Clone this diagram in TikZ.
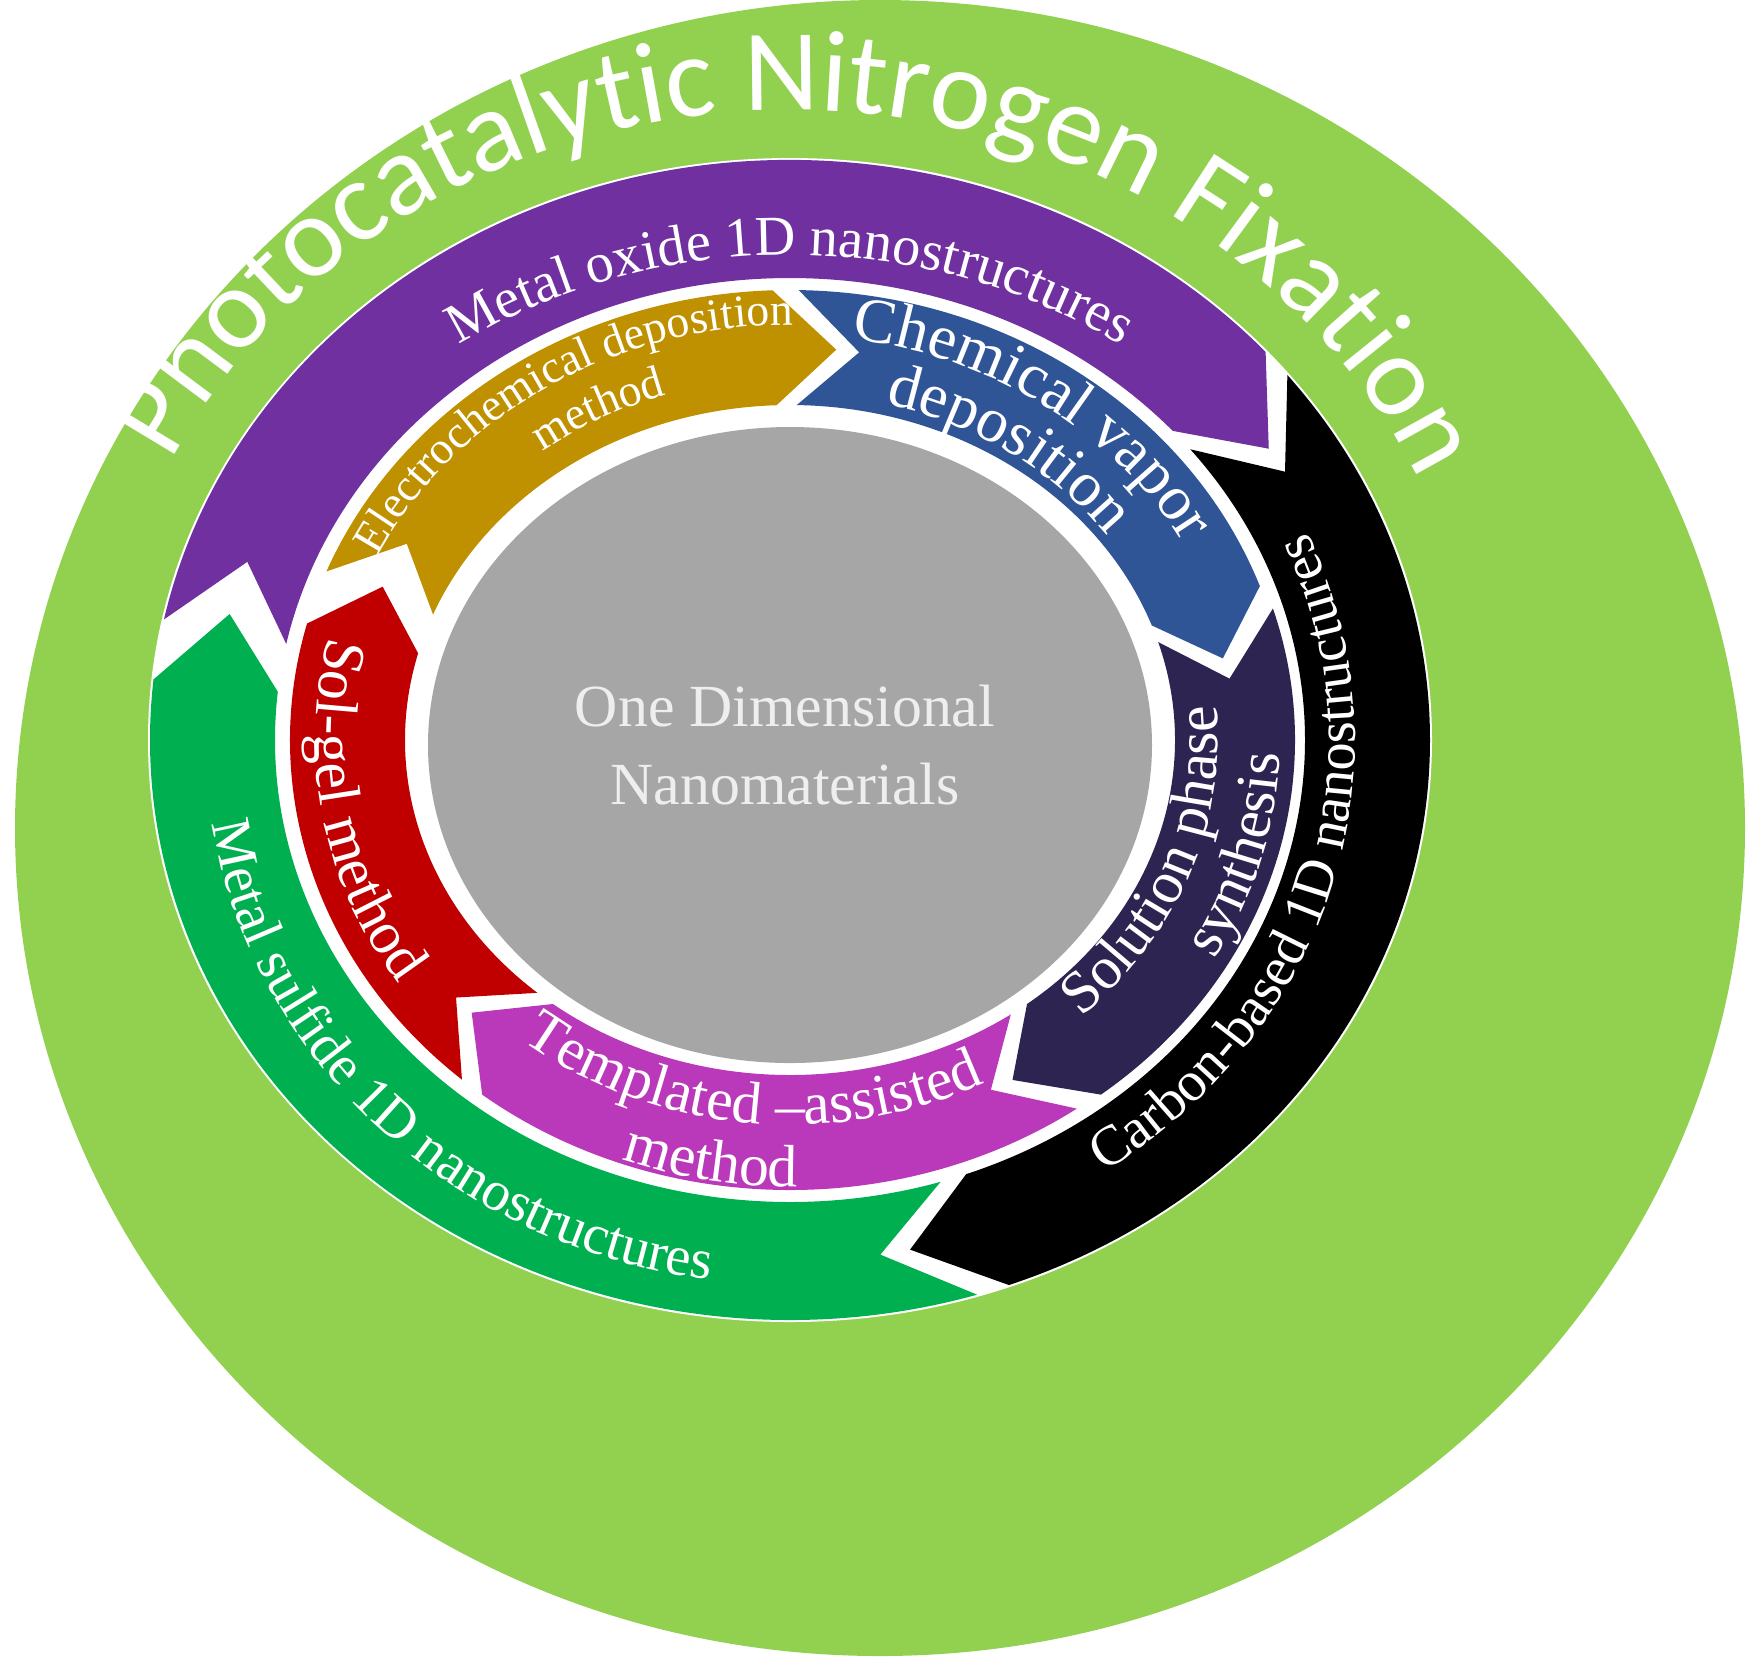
\documentclass[tikz,border=0pt]{standalone}
\usepackage{fontspec}
\setmainfont{Liberation Serif}
\newfontfamily\titlef{Carlito}
\usetikzlibrary{decorations.text,calc}
\definecolor{bggreen}{HTML}{92D050}
\definecolor{cpurple}{HTML}{7030A0}
\definecolor{cgreen}{HTML}{00B050}
\definecolor{cgold}{HTML}{BF9000}
\definecolor{cblue}{HTML}{2F5597}
\definecolor{cnavy}{HTML}{2E2452}
\definecolor{cmag}{HTML}{BA38BA}
\definecolor{cred}{HTML}{C00000}
\definecolor{cgray}{HTML}{A6A6A6}
\definecolor{ltext}{HTML}{EEEEEE}
\newcommand\chevron[8]{%
  \fill[#1] (#2:#4 and #5) arc[start angle=#2,end angle=#3,x radius=#4,y radius=#5]
   -- ({#3-#8}:{(#4+#6)/2} and {(#5+#7)/2})
   -- (#3:#6 and #7) arc[start angle=#3,end angle=#2,x radius=#6,y radius=#7]
   -- ({#2-#8}:{(#4+#6)/2} and {(#5+#7)/2}) -- cycle;}
\newcommand\arctext[6]{%
  \path[decorate,decoration={text along path,text align=center,text color=white,
    text={|#5|#6}}] (#1:#3 and #4) arc[start angle=#1,end angle=#2,x radius=#3,y radius=#4];}
\begin{document}
\begin{tikzpicture}[x=0.01cm,y=0.01cm]
\useasboundingbox (0,0) rectangle (1760,-1659);
\fill[bggreen] (880,-828) ellipse[x radius=865,y radius=828];
\begin{scope}[shift={(790,-740)}]
\fill[white] (0,0) ellipse[x radius=642,y radius=582];
\chevron{cpurple}{168}{42}{640}{580}{515}{462}{8}
\chevron{black}{39}{-70}{640}{580}{515}{462}{8}
\chevron{cgreen}{-73}{-186}{640}{580}{515}{462}{8}
\chevron{cgold}{158}{92}{500}{450}{385}{335}{8}
\chevron{cblue}{89}{20}{500}{450}{385}{335}{8}
\chevron{cnavy}{17}{-52}{505}{450}{385}{335}{8}
\chevron{cmag}{-55}{-128}{500}{450}{385}{335}{8}
\chevron{cred}{-131}{-195}{500}{450}{385}{335}{8}
\fill[cgray] (0,-5) ellipse[x radius=362,y radius=318];
\node[text=ltext,font=\fontsize{17}{22}\selectfont,align=center] (center) at (-5,-5) {One Dimensional\\Nanomaterials};
\arctext{170}{8}{690}{630}{\titlef\fontsize{33}{33}\selectfont}{Photocatalytic Nitrogen Fixation}
\arctext{155}{25}{570}{485}{\fontsize{16}{16}\selectfont}{Metal oxide 1D nanostructures}
\arctext{-70}{38}{565}{520}{\fontsize{16}{16}\selectfont}{Carbon-based  1D nanostructures}
\arctext{175}{275}{585}{545}{\fontsize{16}{16}\selectfont}{Metal sulfide 1D nanostructures}
\arctext{162}{82}{460}{415}{\fontsize{13}{13}\selectfont}{Electrochemical deposition}
\arctext{150}{86}{410}{362}{\fontsize{13}{13}\selectfont}{method}
\arctext{95}{15}{450}{405}{\fontsize{18}{18}\selectfont}{Chemical vapor}
\arctext{95}{15}{392}{347}{\fontsize{18}{18}\selectfont}{deposition}
\arctext{-70}{30}{428}{378}{\fontsize{17}{17}\selectfont}{Solution phase}
\arctext{-65}{35}{490}{440}{\fontsize{17}{17}\selectfont}{synthesis}
\arctext{-145}{-47}{428}{385}{\fontsize{17}{17}\selectfont}{Templated –assisted}
\arctext{-140}{-60}{485}{447}{\fontsize{17}{17}\selectfont}{method}
\arctext{150}{230}{475}{430}{\fontsize{17}{17}\selectfont}{Sol-gel method}
\end{scope}
\end{tikzpicture}
\end{document}
